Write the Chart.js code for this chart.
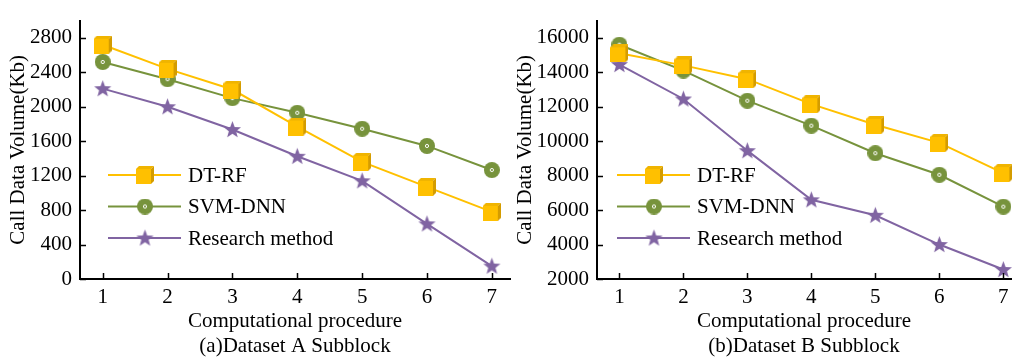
<!DOCTYPE html>
<html><head><meta charset="utf-8">
<script src="https://cdn.jsdelivr.net/npm/chart.js@4.4.1/dist/chart.umd.min.js"></script>
<style>
html,body{margin:0;padding:0;background:#fff;width:1021px;height:360px;overflow:hidden;}
#cA{position:absolute;left:0;top:0;}
#cB{position:absolute;left:510px;top:0;}
</style></head><body>
<canvas id="cA" width="520" height="360"></canvas>
<canvas id="cB" width="511" height="360"></canvas>
<script>
// ---- data ----
const steps = [1, 2, 3, 4, 5, 6, 7];
const seriesNames = ['DT-RF', 'SVM-DNN', 'Research method'];
const dtrfA = [2720, 2440, 2200, 1770, 1360, 1070, 780];
const svmA  = [2520, 2320, 2100, 1930, 1745, 1545, 1265];
const resA  = [2210, 2000, 1735, 1425, 1140, 640, 150];
const dtrfB = [15100, 14400, 13600, 12150, 10950, 9900, 8150];
const svmB  = [15600, 14100, 12350, 10900, 9300, 8050, 6200];
const resB  = [14450, 12450, 9450, 6600, 5700, 4000, 2550];
const yTicksA = [0, 400, 800, 1200, 1600, 2000, 2400, 2800];
const yTicksB = [2000, 4000, 6000, 8000, 10000, 12000, 14000, 16000];
const xTitle = 'Computational procedure';
const yTitle = 'Call Data Volume(Kb)';
const captionA = '(a)Dataset A Subblock';
const captionB = '(b)Dataset B Subblock';

// ---- styles ----
const FONT = "'Liberation Serif', 'Times New Roman', serif";
const C_Y = '#FFC000', C_G = '#77933C', C_P = '#8064A2';

function makeSquare() {
  const c = document.createElement('canvas'); c.width = 18; c.height = 18;
  const x = c.getContext('2d');
  x.fillStyle = '#F0B400';
  x.beginPath(); x.moveTo(0, 3); x.lineTo(3, 0); x.lineTo(18, 0); x.lineTo(15, 3); x.closePath(); x.fill();
  x.fillStyle = '#D49C00';
  x.beginPath(); x.moveTo(15, 3); x.lineTo(18, 0); x.lineTo(18, 15); x.lineTo(15, 18); x.closePath(); x.fill();
  x.fillStyle = C_Y; x.fillRect(0, 3, 15, 15);
  return c;
}
function makeCircle() {
  const c = document.createElement('canvas'); c.width = 16; c.height = 16;
  const x = c.getContext('2d');
  x.fillStyle = C_G; x.beginPath(); x.arc(8, 8, 8, 0, Math.PI * 2); x.fill();
  x.strokeStyle = '#fff'; x.lineWidth = 1; x.beginPath(); x.arc(8, 8, 1.6, 0, Math.PI * 2); x.stroke();
  return c;
}
function makeStar() {
  const c = document.createElement('canvas'); c.width = 19; c.height = 19;
  const x = c.getContext('2d');
  x.fillStyle = C_P; x.beginPath();
  for (let i = 0; i < 10; i++) {
    const r = i % 2 ? 3.8 : 9;
    const a = -Math.PI / 2 + i * Math.PI / 5;
    const px = 9.5 + r * Math.cos(a), py = 10 + r * Math.sin(a);
    i ? x.lineTo(px, py) : x.moveTo(px, py);
  }
  x.closePath(); x.fill();
  return c;
}
const mSquare = makeSquare(), mCircle = makeCircle(), mStar = makeStar();

const customPlugin = {
  id: 'custom',
  afterDraw(chart, args, opts) {
    const ctx = chart.ctx;
    const { left, bottom } = chart.chartArea;
    const xs = chart.scales.x, ys = chart.scales.y;
    ctx.save();
    ctx.strokeStyle = '#000'; ctx.lineWidth = 1.5;
    ctx.beginPath();
    xs.ticks.forEach(t => {
      const px = Math.round(xs.getPixelForValue(t.value)) + 0.5;
      ctx.moveTo(px, bottom); ctx.lineTo(px, bottom - 6);
    });
    ys.ticks.forEach(t => {
      const py = Math.round(ys.getPixelForValue(t.value)) + 0.5;
      ctx.moveTo(left, py); ctx.lineTo(left + 6, py);
    });
    ctx.stroke();
    // legend
    ctx.font = '21px ' + FONT; ctx.textBaseline = 'middle'; ctx.textAlign = 'left';
    chart.data.datasets.forEach((ds, i) => {
      const y = opts.rows[i];
      ctx.strokeStyle = ds.borderColor; ctx.lineWidth = 2;
      ctx.beginPath(); ctx.moveTo(opts.x0, y); ctx.lineTo(opts.x0 + 73, y); ctx.stroke();
      const img = ds.pointStyle;
      ctx.drawImage(img, opts.x0 + 37 - img.width / 2, y - img.height / 2);
      ctx.fillStyle = '#000';
      ctx.fillText(ds.label, opts.x0 + 80, y + 1);
    });
    ctx.restore();
  }
};

function build(id, d1, d2, d3, yTicks, yMin, yMax, xMax, caption, ytPad, yW, legendX, padRight) {
  const mk = (label, data, color, img) => ({
    label, data: steps.map((s, i) => ({ x: s, y: data[i] })),
    borderColor: color, backgroundColor: color, borderWidth: 2,
    pointStyle: img, pointRadius: 8, pointHoverRadius: 8, tension: 0, clip: false
  });
  new Chart(document.getElementById(id), {
    type: 'line',
    data: { datasets: [mk(seriesNames[0], d1, C_Y, mSquare), mk(seriesNames[1], d2, C_G, mCircle), mk(seriesNames[2], d3, C_P, mStar)] },
    options: {
      responsive: false, animation: false, devicePixelRatio: 1,
      layout: { padding: { top: 10, right: padRight, left: 0, bottom: 0 } },
      plugins: { legend: { display: false }, tooltip: { enabled: false }, title: { display: false },
        custom: { x0: legendX, rows: [175, 206.5, 238] } },
      scales: {
        x: {
          type: 'linear', min: 0.65, max: xMax,
          afterBuildTicks: s => { s.ticks = steps.map(v => ({ value: v })); },
          afterFit: s => { s.height = 81; },
          grid: { display: false, drawTicks: false },
          border: { display: true, color: '#000', width: 2 },
          ticks: { font: { family: FONT, size: 21 }, color: '#000', padding: 6, maxRotation: 0, autoSkip: false, callback: v => String(v) },
          title: { display: true, text: [xTitle, caption], color: '#000', font: { family: FONT, size: 21, lineHeight: 25 / 21 }, padding: { top: 0, bottom: 1 } }
        },
        y: {
          type: 'linear', min: yMin, max: yMax,
          afterBuildTicks: s => { s.ticks = yTicks.map(v => ({ value: v })); },
          afterFit: s => { s.width = yW; },
          grid: { display: false, drawTicks: false },
          border: { display: true, color: '#000', width: 2 },
          ticks: { font: { family: FONT, size: 21 }, color: '#000', padding: 8, callback: v => String(v) },
          title: { display: true, text: yTitle, color: '#000', font: { family: FONT, size: 21, lineHeight: 25 / 21 }, padding: { top: ytPad, bottom: 0 } }
        }
      }
    },
    plugins: [customPlugin]
  });
}
build('cA', dtrfA, svmA, resA, yTicksA, 0, 3000, 7.28, captionA, 6, 80, 108, 7);
build('cB', dtrfB, svmB, resB, yTicksB, 2000, 17000, 7.12, captionB, 3, 87, 107, 0);
</script>
</body></html>
